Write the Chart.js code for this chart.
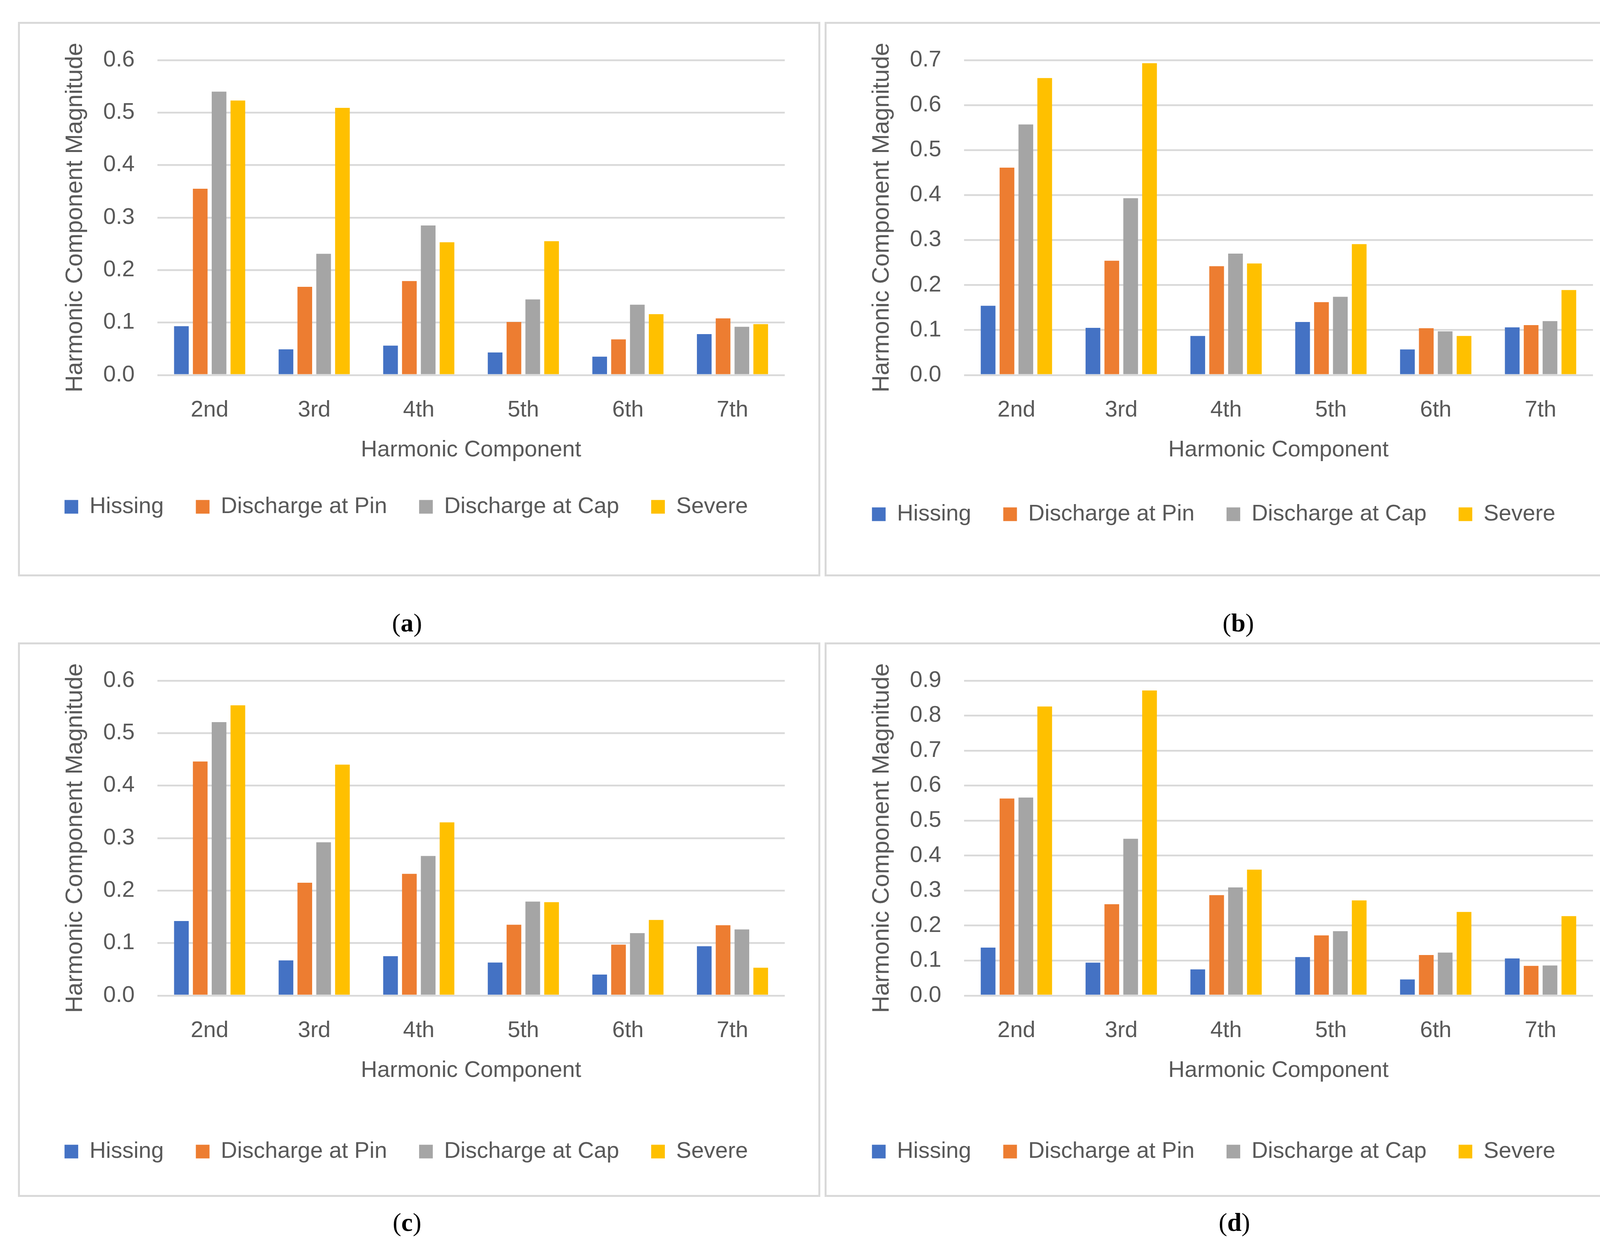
<!DOCTYPE html>
<html>
<head>
<meta charset="utf-8">
<script src="https://cdn.jsdelivr.net/npm/chart.js@4.4.1/dist/chart.umd.min.js"></script>
<style>
  body { margin: 0; background: #fff; width: 4212px; height: 3204px; position: relative; overflow: hidden; }
  .panel { position: absolute; border: 5px solid #d9d9d9; box-sizing: border-box; background: #fff; }
  .panel canvas { position: absolute; left: 0; top: 0; }
  .cap { position: absolute; font-family: 'Liberation Serif', 'Times New Roman', serif; font-size: 66px; color: #000; transform: translateX(-50%); }
</style>
</head>
<body>
<div class="panel" style="left:46px;top:56px;width:2054px;height:1419px"><canvas id="chartA" width="2044" height="1409"></canvas></div>
<div class="panel" style="left:2111px;top:56px;width:2058px;height:1419px"><canvas id="chartB" width="2048" height="1409"></canvas></div>
<div class="panel" style="left:46px;top:1644px;width:2054px;height:1419px"><canvas id="chartC" width="2044" height="1409"></canvas></div>
<div class="panel" style="left:2111px;top:1644px;width:2058px;height:1419px"><canvas id="chartD" width="2048" height="1409"></canvas></div>
<div class="cap" style="left:1042px;top:1556px">(<b>a</b>)</div>
<div class="cap" style="left:3170px;top:1556px">(<b>b</b>)</div>
<div class="cap" style="left:1042px;top:3090px">(<b>c</b>)</div>
<div class="cap" style="left:3160px;top:3090px">(<b>d</b>)</div>
<script>
var harmonics = ['2nd', '3rd', '4th', '5th', '6th', '7th'];
var seriesNames = ['Hissing', 'Discharge at Pin', 'Discharge at Cap', 'Severe'];
var seriesColors = ['#4472C4', '#ED7D31', '#A5A5A5', '#FFC000'];

// (a)
var hissingA = [0.093, 0.049, 0.056, 0.043, 0.035, 0.078];
var pinA = [0.355, 0.168, 0.179, 0.101, 0.068, 0.108];
var capA = [0.540, 0.231, 0.285, 0.144, 0.134, 0.092];
var severeA = [0.523, 0.509, 0.253, 0.255, 0.116, 0.097];

// (b)
var hissingB = [0.154, 0.105, 0.087, 0.118, 0.057, 0.106];
var pinB = [0.461, 0.254, 0.242, 0.162, 0.104, 0.111];
var capB = [0.557, 0.393, 0.270, 0.174, 0.097, 0.120];
var severeB = [0.660, 0.693, 0.248, 0.291, 0.087, 0.189];

// (c)
var hissingC = [0.142, 0.067, 0.075, 0.063, 0.040, 0.094];
var pinC = [0.446, 0.215, 0.232, 0.135, 0.097, 0.134];
var capC = [0.521, 0.292, 0.266, 0.179, 0.119, 0.126];
var severeC = [0.553, 0.440, 0.330, 0.178, 0.144, 0.053];

// (d)
var hissingD = [0.137, 0.094, 0.075, 0.110, 0.046, 0.106];
var pinD = [0.563, 0.261, 0.287, 0.172, 0.116, 0.085];
var capD = [0.566, 0.448, 0.309, 0.184, 0.123, 0.086];
var severeD = [0.826, 0.872, 0.360, 0.272, 0.239, 0.227];

var yMaxA = 0.6, yMaxB = 0.7, yMaxC = 0.6, yMaxD = 0.9;

Chart.defaults.font.family = "'Liberation Sans', Arial, sans-serif";
Chart.defaults.color = '#595959';

function makeChart(id, series, yMax, titleBottom, padBottom) {
    new Chart(document.getElementById(id), {
        type: 'bar',
        data: {
            labels: harmonics,
            datasets: series.map(function (vals, i) {
                return {
                    label: seriesNames[i],
                    data: vals,
                    backgroundColor: seriesColors[i],
                    borderWidth: 0,
                    categoryPercentage: 0.72,
                    barPercentage: 0.78
                };
            })
        },
        options: {
            responsive: false,
            animation: false,
            devicePixelRatio: 1,
            layout: { padding: { top: 87, left: 20, right: 86, bottom: padBottom } },
            plugins: {
                tooltip: { enabled: false },
                legend: {
                    position: 'bottom',
                    labels: { boxWidth: 35, boxHeight: 35, padding: 82, font: { size: 58 }, color: '#595959' }
                }
            },
            scales: {
                x: {
                    grid: { display: false },
                    border: { display: false },
                    ticks: { font: { size: 58 }, padding: 47 },
                    title: { display: true, text: 'Harmonic Component', font: { size: 58 }, padding: { top: -14, bottom: titleBottom } }
                },
                y: {
                    min: 0,
                    max: yMax,
                    grid: { color: '#d9d9d9', lineWidth: 4.5, drawTicks: false },
                    border: { display: false },
                    ticks: { stepSize: 0.1, autoSkip: false, font: { size: 58 }, padding: 58, callback: function (v) { return v.toFixed(1); } },
                    title: { display: true, text: 'Harmonic Component Magnitude', font: { size: 61 }, padding: { top: 86, bottom: -24 } }
                }
            }
        }
    });
}

makeChart('chartA', [hissingA, pinA, capA, severeA], yMaxA, -1, 134);
makeChart('chartB', [hissingB, pinB, capB, severeB], yMaxB, 18, 115);
makeChart('chartC', [hissingC, pinC, capC, severeC], yMaxC, 61, 72);
makeChart('chartD', [hissingD, pinD, capD, severeD], yMaxD, 61, 72);
</script>
</body>
</html>
